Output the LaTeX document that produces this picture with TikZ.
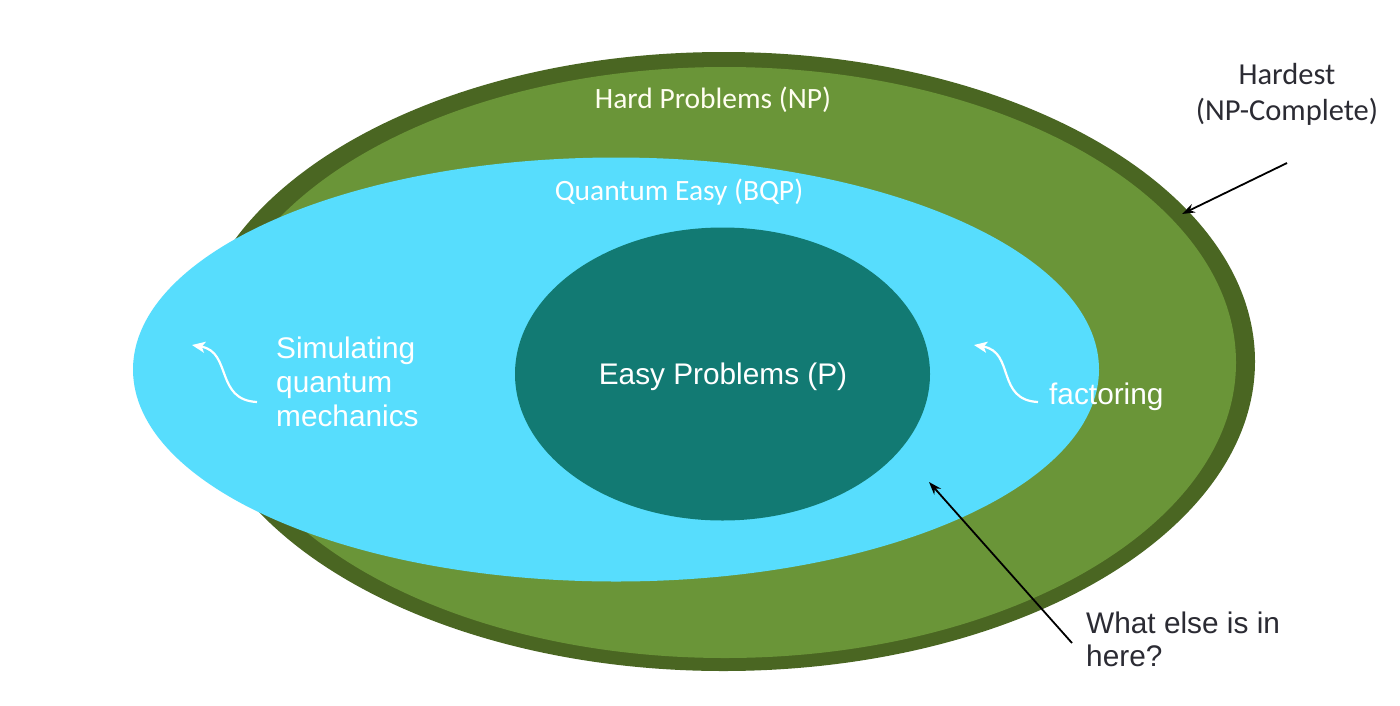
\documentclass[tikz,border=0pt]{standalone}
\usepackage{fontspec}
\setmainfont{Liberation Sans}
\newfontfamily\calfont{Carlito}
\usetikzlibrary{arrows.meta}
\definecolor{darkgreen}{HTML}{4A6622}
\definecolor{lightgreen}{HTML}{6A9538}
\definecolor{skyblue}{HTML}{57DDFD}
\definecolor{teal2}{HTML}{127A73}
\definecolor{darktext}{HTML}{2B2B33}
\tikzset{
  calib/.style={font=\calfont\fontsize{29.5}{34}\selectfont, inner sep=0pt},
  arial/.style={font=\fontsize{29.8}{34}\selectfont, inner sep=0pt},
  whitearrow/.style={draw=white, line width=2.2pt, -{Stealth[length=13pt,width=11pt,inset=3pt]}},
  blackarrow/.style={draw=black, line width=1.8pt, -{Stealth[length=13pt,width=9pt]}},
}
\begin{document}
\begin{tikzpicture}[x=1pt,y=-1pt]
\useasboundingbox (0,0) rectangle (1400,705);
\fill[white] (0,0) rectangle (1400,705);
% ellipses
\fill[darkgreen] (723.5,361.5) ellipse [x radius=531.5, y radius=309.5];
\fill[lightgreen] (725,362.5) ellipse [x radius=511, y radius=295.5];
\fill[skyblue] (616,369.5) ellipse [x radius=483, y radius=212];
\fill[teal2] (722.5,374) ellipse [x radius=207.5, y radius=146.5];
% labels
\node[calib, text=white!94!yellow] (np) at (713,100) {Hard Problems (NP)};
\node[calib, text=white] (bqp) at (679,192) {Quantum Easy (BQP)};
\node[arial, text=white] (p) at (723,377) {Easy Problems (P)};
\node[calib, text=darktext, align=center, font=\calfont\fontsize{30.5}{36}\selectfont] (hard) at (1287,94) {Hardest\\(NP-Complete)};
\node[arial, text=white, align=left, anchor=west, font=\fontsize{29.8}{34}\selectfont] (sim) at (276,382) {Simulating\\quantum\\mechanics};
\node[arial, text=white, anchor=west] (fac) at (1049,397) {factoring};
\node[arial, text=darktext, align=left, anchor=north west, font=\fontsize{29.8}{33}\selectfont] (what) at (1086,612) {What else is in\\here?};
% arrow endpoints
\coordinate (simtail) at (257,402);
\coordinate (simhead) at (192,345);
\coordinate (factail) at (1038,402);
\coordinate (fachead) at (974,345);
\coordinate (hardtail) at (1287,163);
\coordinate (hardhead) at (1182,214);
\coordinate (whattail) at (1072,643);
\coordinate (whathead) at (929,482);
% connectors
\draw[whitearrow] (simtail) .. controls (215,400) and (232,352) .. (simhead);
\draw[whitearrow] (factail) .. controls (996,400) and (1015,352) .. (fachead);
\draw[blackarrow] (hardtail) -- (hardhead);
\draw[blackarrow] (whattail) -- (whathead);
\end{tikzpicture}
\end{document}
